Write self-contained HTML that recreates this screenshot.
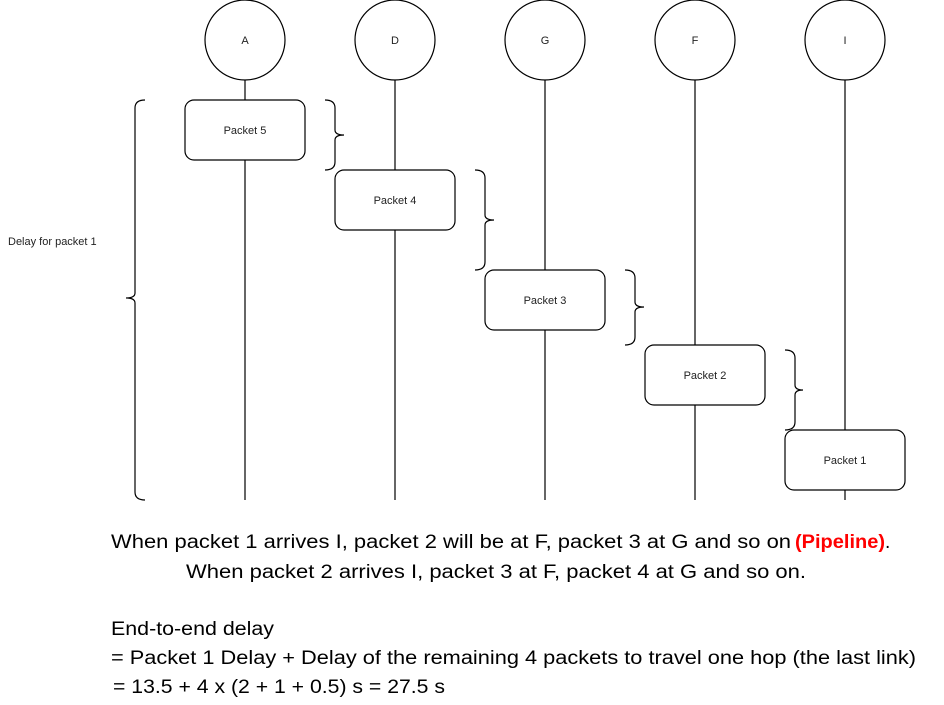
<!DOCTYPE html>
<html><head><meta charset="utf-8"><style>
html,body{margin:0;padding:0;background:#fff;}
svg{display:block;}
</style></head><body>
<svg width="944" height="705" viewBox="0 0 944 705" xmlns="http://www.w3.org/2000/svg">
<g fill="none" stroke="#000" stroke-width="1.2">
<circle cx="245" cy="40" r="40"/><circle cx="395" cy="40" r="40"/><circle cx="545" cy="40" r="40"/><circle cx="695" cy="40" r="40"/><circle cx="845" cy="40" r="40"/>
<line x1="245" y1="80" x2="245" y2="500"/><line x1="395" y1="80" x2="395" y2="500"/><line x1="545" y1="80" x2="545" y2="500"/><line x1="695" y1="80" x2="695" y2="500"/><line x1="845" y1="80" x2="845" y2="500"/>
<path d="M325 100 Q335 100 335 108 L335 130 Q335 135 344 135 Q335 135 335 140 L335 162 Q335 170 325 170"/>
<path d="M475 170 Q485 170 485 178 L485 215 Q485 220 494 220 Q485 220 485 225 L485 262 Q485 270 475 270"/>
<path d="M625 270 Q635 270 635 278 L635 302 Q635 307 644 307 Q635 307 635 312 L635 337 Q635 345 625 345"/>
<path d="M785 350 Q795 350 795 358 L795 385 Q795 390 803 390 Q795 390 795 395 L795 422 Q795 430 785 430"/>
<path d="M145 100 Q135 100 135 108 L135 293 Q135 298 126 298 Q135 298 135 303 L135 492 Q135 500 145 500"/>
</g>
<g fill="#fff" stroke="#000" stroke-width="1.2">
<rect x="185" y="100" width="120" height="60" rx="9"/>
<rect x="335" y="170" width="120" height="60" rx="9"/>
<rect x="485" y="270" width="120" height="60" rx="9"/>
<rect x="645" y="345" width="120" height="60" rx="9"/>
<rect x="785" y="430" width="120" height="60" rx="9"/>
</g>
<g font-family="Liberation Sans, sans-serif" font-size="11" fill="#222" text-anchor="middle">
<text x="245" y="44">A</text><text x="395" y="44">D</text><text x="545" y="44">G</text><text x="695" y="44">F</text><text x="845" y="44">I</text>
<text x="245" y="134">Packet 5</text><text x="395" y="204">Packet 4</text><text x="545" y="304">Packet 3</text><text x="705" y="379">Packet 2</text><text x="845" y="464">Packet 1</text>
<text x="8" y="245" text-anchor="start">Delay for packet 1</text>
</g>
<g font-family="Liberation Sans, sans-serif" font-size="19" fill="#000">
<text x="111" y="548" textLength="680" lengthAdjust="spacingAndGlyphs">When packet 1 arrives I, packet 2 will be at F, packet 3 at G and so on</text>
<text x="795" y="548" fill="#ff0000" font-weight="bold" textLength="90" lengthAdjust="spacingAndGlyphs">(Pipeline)</text>
<text x="885" y="548">.</text>
<text x="186" y="578" textLength="620" lengthAdjust="spacingAndGlyphs">When packet 2 arrives I, packet 3 at F, packet 4 at G and so on.</text>
<text x="111" y="635" textLength="163" lengthAdjust="spacingAndGlyphs">End-to-end delay</text>
<text x="111" y="664" textLength="805" lengthAdjust="spacingAndGlyphs">= Packet 1 Delay + Delay of the remaining 4 packets to travel one hop (the last link)</text>
<text x="113" y="693" textLength="332" lengthAdjust="spacingAndGlyphs">= 13.5 + 4 x (2 + 1 + 0.5) s = 27.5 s</text>
</g>
</svg>
</body></html>
